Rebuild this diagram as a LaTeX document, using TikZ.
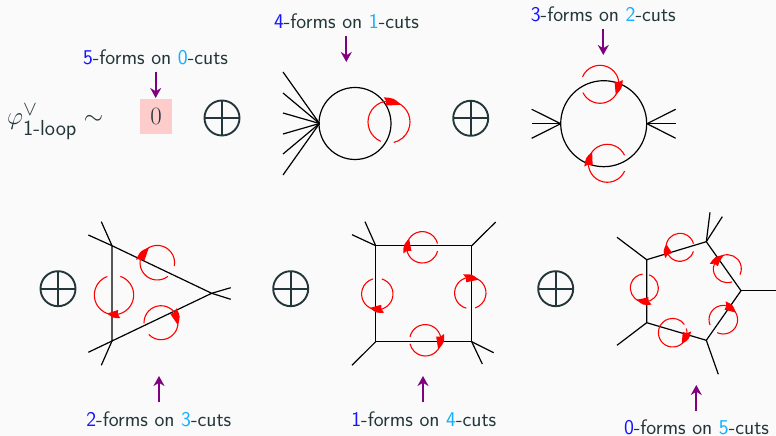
\documentclass[tikz,border=0pt]{standalone}
\usepackage{amsmath,amssymb}
\usepackage{tikz}
\usetikzlibrary{arrows.meta,calc}
\usepackage{xcolor}
\definecolor{pagebg}{RGB}{250,250,250}
\definecolor{inkteal}{RGB}{35,55,59}
\definecolor{formblue}{RGB}{20,20,255}
\definecolor{cutcyan}{RGB}{20,175,255}
\definecolor{formpurple}{RGB}{128,0,128}
\tikzset{
 formlabel/.style={text=inkteal,font=\sffamily\fontsize{21}{24}\selectfont,inner sep=0pt},
 formarrow/.style={formpurple,line width=1.7pt,-{Stealth[length=10pt,width=11pt]}},
 sumsign/.style={circle,draw=inkteal,line width=1.9pt,minimum size=35pt,inner sep=0pt,
  path picture={\draw[inkteal,line width=1.9pt]
   (path picture bounding box.north)--(path picture bounding box.south)
   (path picture bounding box.west)--(path picture bounding box.east);}},
 leg/.style={black,line width=1.2pt},
 propagator/.style={black,line width=1.2pt},
 cutarc/.style={red,line width=1.1pt},
 cuthead/.style={red}
}
\newcommand{\cutlabel}[2]{\textcolor{formblue}{#1}-forms on \textcolor{cutcyan}{#2}-cuts}
\newcommand{\cutloop}[6]{%
 \pgfmathsetmacro{\midang}{(#5+#6)/2}
 \pgfmathsetmacro{\notchang}{#5+(#6-#5)/10}
 \draw[cutarc] (#1) ++(#3:#2) arc[start angle=#3,end angle=#4,radius=#2];
 \fill[cuthead] ($(#1)+(#5:{#2+4.2})$) .. controls ($(#1)+(\midang:{#2+3.4})$) .. ($(#1)+(#6:#2)$)
  .. controls ($(#1)+(\midang:{#2-3.4})$) .. ($(#1)+(#5:{#2-4.2})$) -- ($(#1)+(\notchang:#2)$) -- cycle;}
\begin{document}
\begin{tikzpicture}[x=1pt,y=1pt,line join=round]
 \path[use as bounding box,fill=pagebg] (0,0) rectangle (776,436);
 \node[anchor=base west,inner sep=0pt,text=inkteal,font=\sffamily\fontsize{31}{35}\selectfont] (phi) at (7,311)
  {$\varphi^{\vee}_{\text{1-loop}}\sim$};
 \node[fill=red!20,text=inkteal,minimum width=32pt,minimum height=35pt,inner sep=0pt,font=\fontsize{30}{34}\selectfont] (zero) at (156,319.5) {$0$};
 \foreach \s/\x/\y in {s1/222/318,s2/470.7/317.7,s3/58/147.3,s4/290.7/147.3,s5/555.7/147.3}
  {\node[sumsign] (\s) at (\x,\y) {};}

 \node[formlabel] (lab0) at (155.5,379) {\cutlabel{5}{0}};
 \node[formlabel] (lab1) at (346.5,415) {\cutlabel{4}{1}};
 \node[formlabel] (lab2) at (603.3,421.5) {\cutlabel{3}{2}};
 \node[formlabel] (lab3) at (158.8,16.5) {\cutlabel{2}{3}};
 \node[formlabel] (lab4) at (423.8,16.5) {\cutlabel{1}{4}};
 \node[formlabel] (lab5) at (696.5,8.8) {\cutlabel{0}{5}};
 \foreach \n/\x/\ya/\yb in {0/155.7/364.3/338,1/346.3/400/374,2/603.3/407/381,
  3/159/33.7/60,4/423/33.7/60,5/696.3/24.7/51}
  {\coordinate (tail\n) at (\x,\ya);\coordinate (tip\n) at (\x,\yb);
   \draw[formarrow] (tail\n)--(tip\n);}

 \coordinate (bub) at (355,312.5);\coordinate (bubv) at (319.5,312.5);
 \coordinate (two) at (603.7,312.3);\coordinate (twol) at (560.7,312.3);\coordinate (twor) at (647,312.3);
 \coordinate (triA) at (112,190.3);\coordinate (triB) at (112,95);\coordinate (triC) at (211.7,142.7);
 \coordinate (boxA) at (375.7,190.3);\coordinate (boxB) at (471.7,190.3);
 \coordinate (boxC) at (471.7,94.3);\coordinate (boxD) at (375.7,94.3);
 \coordinate (penA) at (646.7,176.3);\coordinate (penB) at (706.3,194.3);\coordinate (penC) at (741,145.3);
 \coordinate (penD) at (706.3,95.7);\coordinate (penE) at (646.7,113.3);

 \draw[propagator] (bub) circle (36);
 \draw[propagator] (two) circle (43);
 \draw[propagator] (triA)--(triC)--(triB)--cycle;
 \draw[propagator] (boxA)--(boxB)--(boxC)--(boxD)--cycle;
 \draw[propagator] (penA)--(penB)--(penC)--(penD)--(penE)--cycle;
 \foreach \v/\n/\x/\y in {bubv/1/283/364,bubv/2/283/343,bubv/3/283/323,bubv/4/283/302,bubv/5/283/282,bubv/6/283/261,
  twol/1/531.7/326.7,twol/2/531.7/312.3,twol/3/531.7/297.7,twor/1/675.7/326.7,twor/2/675.7/312.3,twor/3/675.7/297.7,
  triA/1/88.3/201,triA/2/101.3/214.3,triB/1/88.3/83.7,triB/2/101.3/70.7,triC/1/230.7/148.3,triC/2/230.7/136.7,
  boxA/1/352/201.3,boxA/2/365/214.3,boxB/1/495.7/214,boxD/1/352/70.7,boxC/1/493.7/83.3,boxC/2/482.3/72,
  penA/1/617/198.7,penB/1/710/223.7,penB/2/722.3/219.3,penC/1/776/145.3,penD/1/718.3/61.7,penE/1/617/90.7}
  {\coordinate (\v\n) at (\x,\y);\draw[leg] (\v)--(\v\n);}

 \cutloop{389,314}{21}{247}{-77}{102}{55}
 \cutloop{600,351.7}{19}{157}{-154}{11}{-34}
 \cutloop{607.3,272.7}{19}{-24}{-335}{188}{143}
 \cutloop{157.3,173.3}{17.3}{-52}{-371}{172}{119}
 \cutloop{114,141}{19.7}{71}{-250}{-75}{-110}
 \cutloop{161,113.3}{17}{182}{-136}{43}{-8}
 \cutloop{422.3,188.7}{15.7}{-14}{-346}{198}{147}
 \cutloop{377.3,142}{15.7}{73}{-254}{-70}{-118}
 \cutloop{470.3,143}{15.7}{255}{-72}{111}{58}
 \cutloop{425.3,95.7}{15.7}{167}{-167}{19}{-35}
 \cutloop{644.3,148}{14}{70}{-263}{-66}{-124}
 \cutloop{680,188.7}{14}{-17}{-345}{216}{167}
 \cutloop{727.3,167.3}{14}{-70}{-385}{165}{105}
 \cutloop{723.3,116.3}{14.3}{202}{-115}{83}{30}
 \cutloop{672.7,103.3}{14.3}{17}{-325}{4}{-51}
\end{tikzpicture}
\end{document}
